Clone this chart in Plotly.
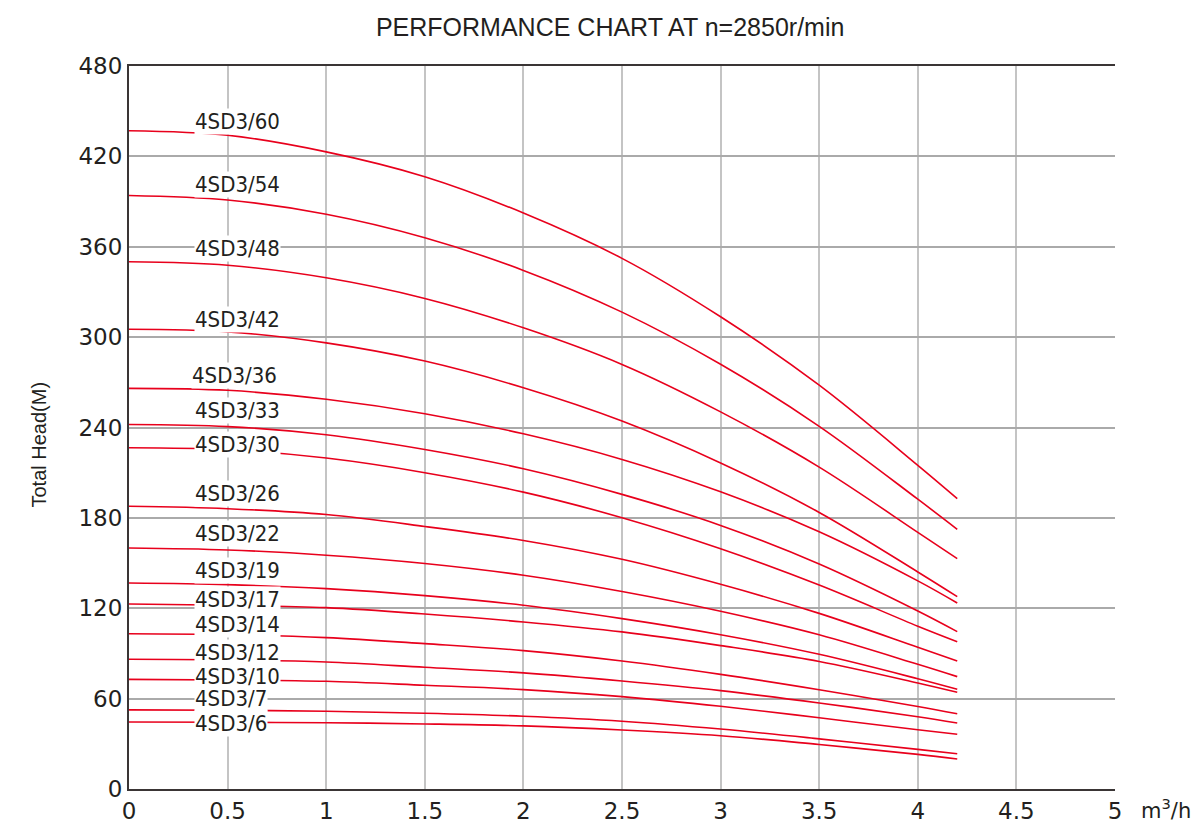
import plotly.graph_objs as go

# flow rate, m3/h
flow = [0, 0.5, 1, 1.5, 2, 2.5, 3, 3.5, 4, 4.2]

# total head (m) per model
head = {
    "4SD3/60": [437, 434, 423, 406.5, 382.4, 352.3, 313.5, 268.1, 214.9, 192.8],
    "4SD3/54": [394, 391, 381.6, 366, 344.3, 316.6, 282, 240.8, 192.4, 172.4],
    "4SD3/48": [350, 347.7, 339.4, 325.7, 306.2, 281.9, 250.4, 213.7, 170.4, 152.9],
    "4SD3/42": [305.2, 303.5, 296.2, 284.1, 266.4, 244.3, 216.5, 183.6, 144.1, 127.7],
    "4SD3/36": [266, 264.7, 258.7, 249.1, 235.8, 218.8, 197.3, 170.8, 138.2, 123.5],
    "4SD3/33": [242, 240.6, 235.2, 225.4, 212.6, 195.6, 175, 149.4, 118.2, 104.5],
    "4SD3/30": [226.6, 225.3, 219.7, 210, 197.1, 180.1, 159.5, 135.4, 108.1, 97.8],
    "4SD3/26": [187.7, 186.1, 182.2, 174.3, 165, 152.5, 135.9, 116.6, 94.1, 85],
    "4SD3/22": [160, 158.7, 155.2, 149.7, 141.9, 131.1, 118, 102.4, 82.8, 74.6],
    "4SD3/19": [136.8, 135.7, 133, 128.4, 122, 113.1, 102.4, 89.4, 73.2, 66.2],
    "4SD3/17": [122.8, 122, 120.4, 116.2, 110.9, 104.3, 95.2, 84.7, 70.4, 64.2],
    "4SD3/14": [103.1, 102.5, 100.5, 96.5, 91.9, 85, 76.1, 65.9, 54.8, 50],
    "4SD3/12": [86.1, 85.7, 84.3, 80.8, 77.1, 71.7, 65.3, 57.1, 48, 43.8],
    "4SD3/10": [72.8, 72.4, 71.5, 68.9, 66, 61.3, 54.9, 47.3, 39.3, 36.3],
    "4SD3/7": [52.5, 52.3, 51.6, 50.3, 48.3, 45, 39.8, 33.3, 26.3, 23.4],
    "4SD3/6": [44.5, 44.3, 44, 43.2, 41.9, 39.2, 35.4, 29.5, 23, 19.9],
}

# where each model name sits (flow, head)
label_pos = {
    "4SD3/60": (0.33, 442.9),
    "4SD3/54": (0.33, 401),
    "4SD3/48": (0.33, 358.6),
    "4SD3/42": (0.33, 312),
    "4SD3/36": (0.315, 274.2),
    "4SD3/33": (0.33, 251),
    "4SD3/30": (0.33, 229),
    "4SD3/26": (0.33, 196.5),
    "4SD3/22": (0.33, 169.3),
    "4SD3/19": (0.33, 144.8),
    "4SD3/17": (0.33, 125.5),
    "4SD3/14": (0.33, 108.9),
    "4SD3/12": (0.33, 90.3),
    "4SD3/10": (0.33, 75),
    "4SD3/7": (0.33, 60.4),
    "4SD3/6": (0.33, 43.2),
}

RED = "#e8001c"
TXT = "#231f20"

fig = go.Figure()
for name, h in head.items():
    fig.add_trace(go.Scatter(x=flow, y=h, name=name, mode="lines",
                             line=dict(color=RED, width=1.6, shape="spline"),
                             showlegend=False))

for name, (lx, ly) in label_pos.items():
    fig.add_annotation(x=lx, y=ly, xref="x", yref="y", text=name,
                       showarrow=False, xanchor="left", yanchor="middle",
                       bgcolor="white", borderpad=0,
                       font=dict(family="DejaVu Sans Condensed", size=22, color=TXT))

# unit next to the last x tick
fig.add_annotation(x=1.0, y=0, xref="paper", yref="paper",
                   text="m<sup>3</sup>/h", showarrow=False,
                   xanchor="left", yanchor="top", xshift=24, yshift=-4,
                   font=dict(family="DejaVu Sans", size=21, color=TXT))

# y axis title
fig.add_annotation(x=0, y=0.5, xref="paper", yref="paper",
                   text="Total Head(M)", showarrow=False, textangle=-90,
                   xanchor="center", yanchor="middle", xshift=-91, yshift=-17,
                   font=dict(family="Liberation Sans", size=20, color=TXT))

# the page body adds ~7px offset, so the figure is sized to fit the window
fig.update_layout(
    width=1190, height=816,
    margin=dict(l=121, r=83, t=58, b=35, autoexpand=False),
    paper_bgcolor="white", plot_bgcolor="white",
    title=dict(text="PERFORMANCE CHART AT n=2850r/min", x=0.488, xanchor="center",
               xref="paper", y=0.977, yanchor="middle",
               font=dict(family="Liberation Sans", size=25, color=TXT)),
    xaxis=dict(range=[0, 5], dtick=0.5, tick0=0, automargin=False,
               showgrid=True, gridcolor="#c4c4c4", gridwidth=2,
               showline=True, linecolor="#3a3535", linewidth=2, mirror=True,
               zeroline=False, ticks="",
               tickfont=dict(family="DejaVu Sans", size=23, color=TXT)),
    yaxis=dict(range=[0, 480], dtick=60, tick0=0, automargin=False,
               showgrid=True, gridcolor="#aaaaaa", gridwidth=1.5,
               showline=True, linecolor="#3a3535", linewidth=2,
               zeroline=False, ticks="",
               tickfont=dict(family="DejaVu Sans", size=23, color=TXT)),
)

fig.write_html("out.html")
